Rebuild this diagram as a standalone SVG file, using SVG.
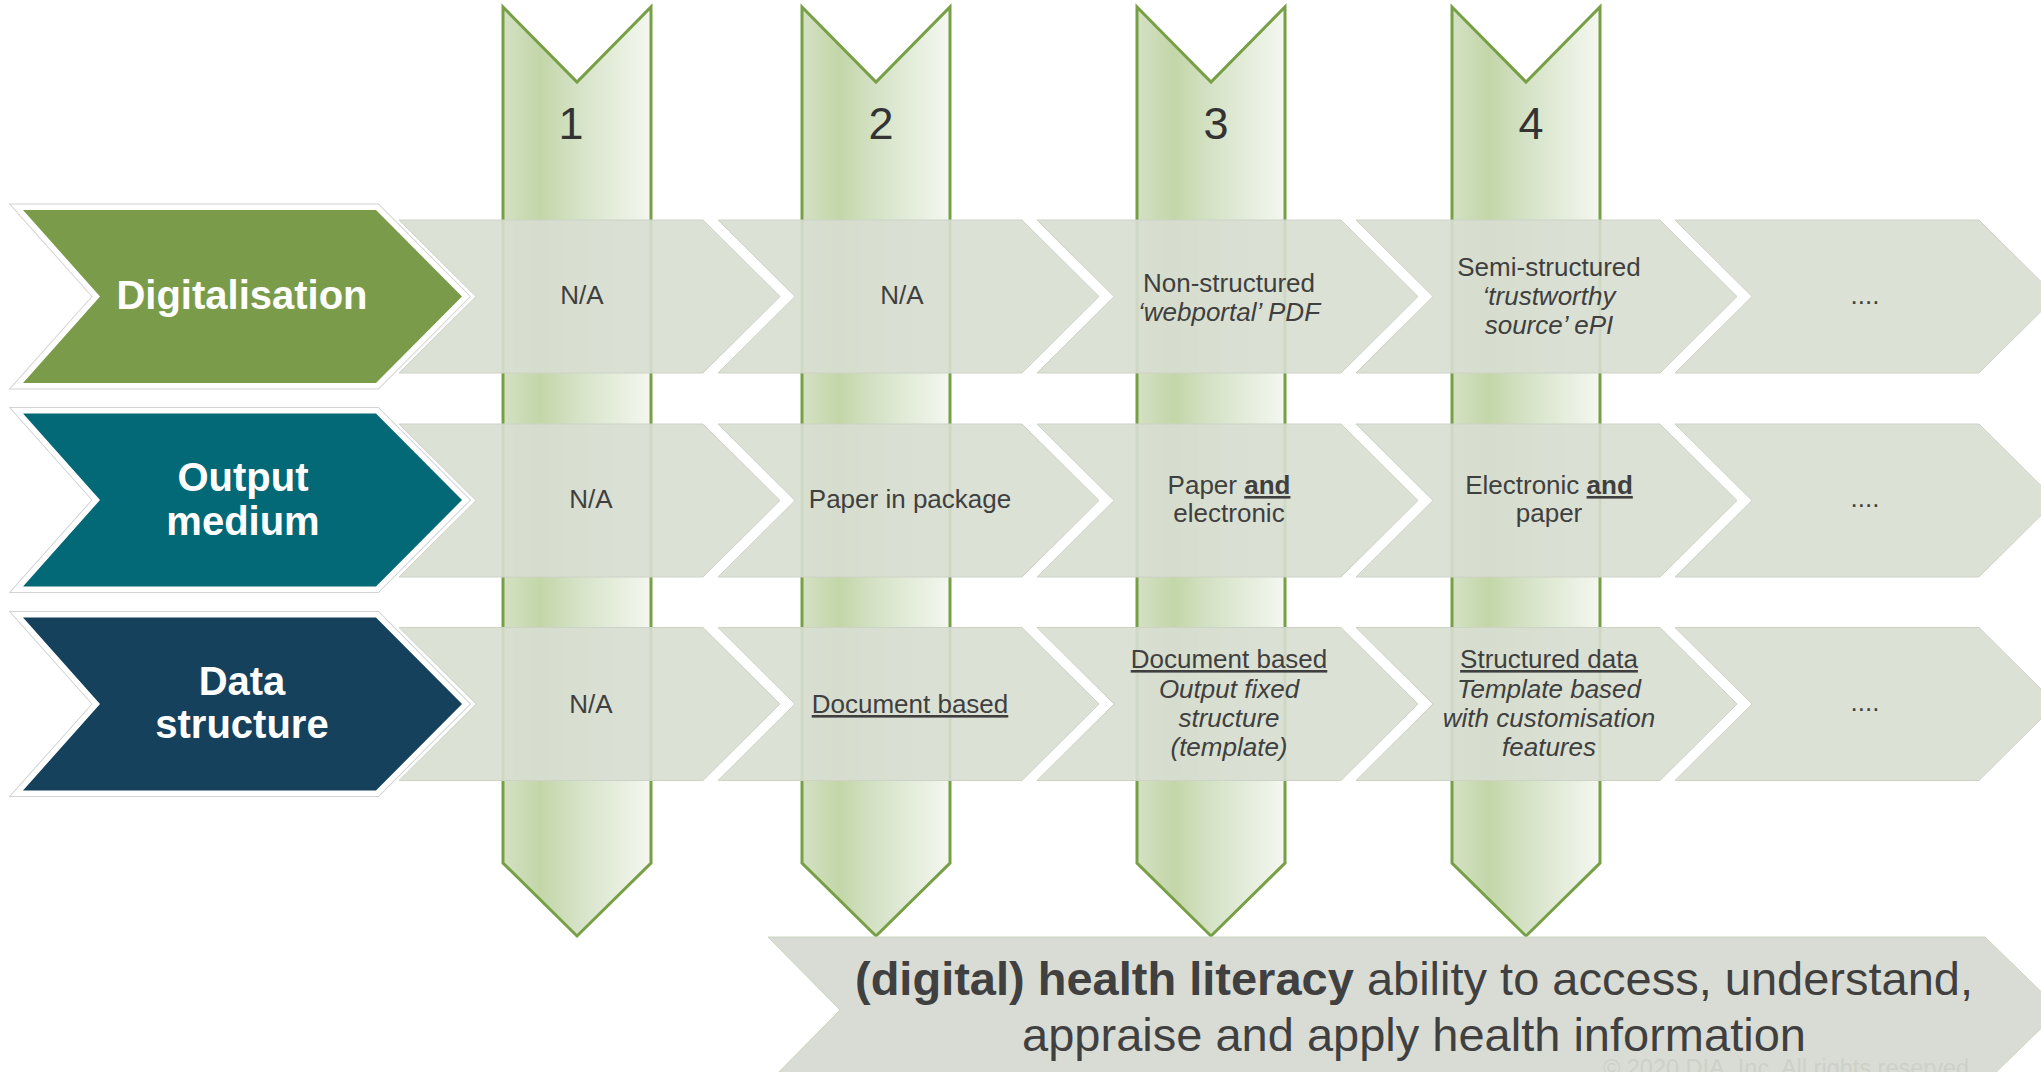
<svg xmlns="http://www.w3.org/2000/svg" width="2041" height="1072" viewBox="0 0 2041 1072">
<style>
.t{font-family:"Liberation Sans",Arial,sans-serif;font-size:26px;fill:#3f3f3f;text-anchor:middle}
.i{font-style:italic}
.u{text-decoration:underline}
.b{font-weight:bold}
.lbl{font-family:"Liberation Sans",Arial,sans-serif;font-size:40px;font-weight:bold;fill:#ffffff;text-anchor:middle}
.num{font-family:"Liberation Sans",Arial,sans-serif;font-size:45px;fill:#333333;text-anchor:middle}
.col{fill:url(#cg);stroke:#77a046;stroke-width:3}
.seg{fill:#d8ded2;fill-opacity:0.9;stroke:#cdd2c7;stroke-width:1}
.ban{font-family:"Liberation Sans",Arial,sans-serif;font-size:47px;fill:#404040;text-anchor:middle}
</style>
<defs>
<linearGradient id="cg" x1="0" y1="0" x2="1" y2="0">
<stop offset="0" stop-color="#d4e1c4"/>
<stop offset="0.25" stop-color="#c3d6a8"/>
<stop offset="0.5" stop-color="#d5e2c6"/>
<stop offset="1" stop-color="#f4f7f0"/>
</linearGradient>
<path id="seg" d="M0,-76.5 H304 L381,0 L304,76.5 H0 L77,0 Z"/>
<path id="lab" d="M23,-86.5 H376 L462,0 L376,86.5 H23 L100,0 Z"/>
</defs>
<rect width="2041" height="1072" fill="#ffffff"/>

<g id="columns">
<g id="col1"><path class="col" d="M503,7 L577,82 L651,7 L651,863 L577,936 L503,863 Z"/></g>
<g id="col2"><path class="col" d="M802,7 L876,82 L950,7 L950,863 L876,936 L802,863 Z"/></g>
<g id="col3"><path class="col" d="M1137,7 L1211,82 L1285,7 L1285,863 L1211,936 L1137,863 Z"/></g>
<g id="col4"><path class="col" d="M1452,7 L1526,82 L1600,7 L1600,863 L1526,936 L1452,863 Z"/></g>
</g>

<g id="numbers">
<text class="num" x="571" y="139">1</text>
<text class="num" x="881" y="139">2</text>
<text class="num" x="1216" y="139">3</text>
<text class="num" x="1531" y="139">4</text>
</g>

<g id="row1">
<use href="#seg" class="seg" x="399" y="296.5"/>
<use href="#seg" class="seg" x="718" y="296.5"/>
<use href="#seg" class="seg" x="1037" y="296.5"/>
<use href="#seg" class="seg" x="1356" y="296.5"/>
<use href="#seg" class="seg" x="1675" y="296.5"/>
<text class="t" x="582" y="304">N/A</text>
<text class="t" x="902" y="304">N/A</text>
<text class="t" x="1229" y="292">Non-structured</text>
<text class="t i" x="1229" y="321">‘webportal’ PDF</text>
<text class="t" x="1549" y="276">Semi-structured</text>
<text class="t i" x="1549" y="305">‘trustworthy</text>
<text class="t i" x="1549" y="334">source’ ePI</text>
<text class="t" x="1865" y="304">....</text>
</g>

<g id="row2">
<use href="#seg" class="seg" x="399" y="500.5"/>
<use href="#seg" class="seg" x="718" y="500.5"/>
<use href="#seg" class="seg" x="1037" y="500.5"/>
<use href="#seg" class="seg" x="1356" y="500.5"/>
<use href="#seg" class="seg" x="1675" y="500.5"/>
<text class="t" x="591" y="508">N/A</text>
<text class="t" x="910" y="508">Paper in package</text>
<text class="t" x="1229" y="494">Paper <tspan class="b u">and</tspan></text>
<text class="t" x="1229" y="522">electronic</text>
<text class="t" x="1549" y="494">Electronic <tspan class="b u">and</tspan></text>
<text class="t" x="1549" y="522">paper</text>
<text class="t" x="1865" y="507">....</text>
</g>

<g id="row3">
<use href="#seg" class="seg" x="399" y="704"/>
<use href="#seg" class="seg" x="718" y="704"/>
<use href="#seg" class="seg" x="1037" y="704"/>
<use href="#seg" class="seg" x="1356" y="704"/>
<use href="#seg" class="seg" x="1675" y="704"/>
<text class="t" x="591" y="713">N/A</text>
<text class="t u" x="910" y="713">Document based</text>
<text class="t u" x="1229" y="668">Document based</text>
<text class="t i" x="1229" y="698">Output fixed</text>
<text class="t i" x="1229" y="727">structure</text>
<text class="t i" x="1229" y="756">(template)</text>
<text class="t u" x="1549" y="668">Structured data</text>
<text class="t i" x="1549" y="698">Template based</text>
<text class="t i" x="1549" y="727">with customisation</text>
<text class="t i" x="1549" y="756">features</text>
<text class="t" x="1865" y="711">....</text>
</g>

<g id="label-digitalisation">
<use href="#lab" x="0" y="296.5" fill="none" stroke="#d3d3d3" stroke-width="13"/>
<use href="#lab" x="0" y="296.5" fill="none" stroke="#ffffff" stroke-width="11"/>
<use href="#lab" x="0" y="296.5" fill="#7a9c4a"/>
<text class="lbl" x="242" y="309">Digitalisation</text>
</g>

<g id="label-output">
<use href="#lab" x="0" y="500" fill="none" stroke="#d3d3d3" stroke-width="13"/>
<use href="#lab" x="0" y="500" fill="none" stroke="#ffffff" stroke-width="11"/>
<use href="#lab" x="0" y="500" fill="#036976"/>
<text class="lbl" x="243" y="491">Output</text>
<text class="lbl" x="243" y="535">medium</text>
</g>

<g id="label-data">
<use href="#lab" x="0" y="704" fill="none" stroke="#d3d3d3" stroke-width="13"/>
<use href="#lab" x="0" y="704" fill="none" stroke="#ffffff" stroke-width="11"/>
<use href="#lab" x="0" y="704" fill="#16415c"/>
<text class="lbl" x="242" y="695">Data</text>
<text class="lbl" x="242" y="738">structure</text>
</g>

<g id="banner">
<path d="M768,937 H1985 L2060,1010 L1985,1083 H768 L840,1010 Z" fill="#d9dcd5" stroke="#cbd6bf" stroke-width="1"/>
<text class="ban" x="1414" y="995"><tspan class="b">(digital) health literacy</tspan> ability to access, understand,</text>
<text class="ban" x="1414" y="1051">appraise and apply health information</text>
<text x="1786" y="1076" font-family="Liberation Sans, Arial, sans-serif" font-size="23.5" fill="#cdd0c8" text-anchor="middle">© 2020 DIA, Inc. All rights reserved</text>
</g>
</svg>
